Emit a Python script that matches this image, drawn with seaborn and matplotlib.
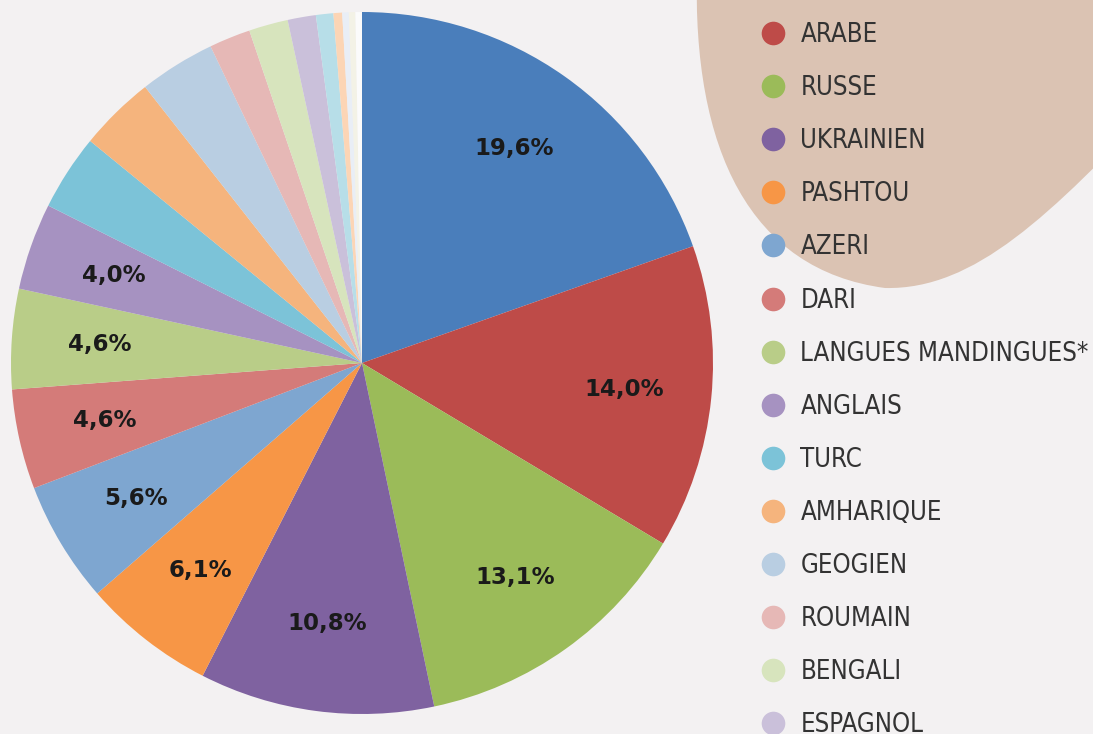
import matplotlib
matplotlib.use("Agg")
import matplotlib.pyplot as plt
from matplotlib.lines import Line2D
from matplotlib.path import Path
from matplotlib.patches import PathPatch
from matplotlib import font_manager
import seaborn as sns

# --- Data (slices clockwise from 12 o'clock) ---
# first slice and the last tiny ones are cropped out of the legend in the original
langues = ["", "ARABE", "RUSSE", "UKRAINIEN", "PASHTOU", "AZERI", "DARI",
           "LANGUES MANDINGUES*", "ANGLAIS", "TURC", "AMHARIQUE", "GEOGIEN",
           "ROUMAIN", "BENGALI", "ESPAGNOL", "", "", "", "", ""]
parts = [19.6, 14.0, 13.1, 10.8, 6.1, 5.6, 4.6,
         4.6, 4.0, 3.5, 3.5, 3.5,
         1.9, 1.8, 1.3, 0.8, 0.4, 0.3, 0.3, 0.3]
couleurs = ["#4A7EBB", "#BE4B48", "#9BBB59", "#7F62A0", "#F79646", "#7EA6D0", "#D47B79",
            "#B9CD88", "#A692C1", "#7CC3D8", "#F5B47D", "#B9CEE2",
            "#E6B8B6", "#D7E4BD", "#CAC0DA", "#B7DEE8", "#FCD5B5", "#E9EEF6", "#F3F2E6",
            "#FBFBFB"]

BG = "#F3F1F2"
BLOB = "#DBC3B3"

sns.set_theme(style="white")
plt.rcParams["font.family"] = ["DejaVu Sans"]

# narrow font for the legend if there is one
noms = {f.name for f in font_manager.fontManager.ttflist}
if "Liberation Sans Narrow" in noms:
    leg_prop = dict(family=["Liberation Sans Narrow", "DejaVu Sans"], size=20.5)
else:
    leg_prop = dict(family=["DejaVu Sans"], stretch="condensed", size=18.5)

W, H = 1093, 734
fig = plt.figure(figsize=(W / 100, H / 100), dpi=100, facecolor=BG)

# --- decorative blob behind the legend (pixel coords -> figure fraction) ---
def px(x, y):
    return (x / W, 1 - y / H)

verts = [px(697, -30),
         px(692, 150), px(750, 270), px(885, 288),
         px(975, 290), px(1050, 215), px(1160, 100),
         px(1160, -30),
         px(697, -30)]
codes = [Path.MOVETO,
         Path.CURVE4, Path.CURVE4, Path.CURVE4,
         Path.CURVE4, Path.CURVE4, Path.CURVE4,
         Path.LINETO, Path.CLOSEPOLY]
fig.patches.append(PathPatch(Path(verts, codes), facecolor=BLOB, edgecolor="none",
                             transform=fig.transFigure, zorder=0))

# --- pie ---
cx, cy, r = 362, 363, 351
ax = fig.add_axes([(cx - r) / W, (H - cy - r) / H, 2 * r / W, 2 * r / H])
ax.set_facecolor("none")

def fmt(p):
    return f"{p:.1f}%".replace(".", ",") if p >= 3.9 else ""

wedges, _, autotexts = ax.pie(parts, colors=couleurs, startangle=90, counterclock=False,
                              radius=1, autopct=fmt, pctdistance=0.75,
                              wedgeprops=dict(linewidth=0),
                              textprops=dict(fontsize=16.5, fontweight="bold", color="#1a1a1a"))
ax.set_xlim(-1, 1)
ax.set_ylim(-1, 1)
ax.set_aspect("equal")
ax.axis("off")

# --- legend (cropped at the bottom like the original) ---
handles = []
labels = []
for nom, c in zip(langues, couleurs):
    if nom:
        handles.append(Line2D([], [], marker="o", linestyle="none", markersize=17,
                              markerfacecolor=c, markeredgecolor="none"))
        labels.append(nom)

leg = fig.legend(handles, labels, loc="upper left", bbox_to_anchor=(758 / W, 1 - 22 / H),
                 frameon=False, handletextpad=0.45, labelspacing=1.055, borderpad=0,
                 borderaxespad=0, handlelength=1.2, prop=leg_prop)
for t in leg.get_texts():
    t.set_color("#333333")

fig.savefig("out.png", dpi=100, facecolor=BG)
